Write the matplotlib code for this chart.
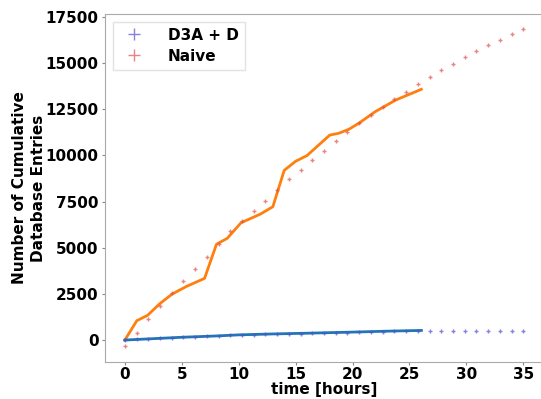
import numpy as np
import matplotlib
matplotlib.use("Agg")
import matplotlib.pyplot as plt

# fitted / projected points (35 evenly spaced over 0..35 hours)
proj_hours = np.linspace(0, 35, 35)
naive_proj = [-308, 396, 1154, 1842, 2530, 3196, 3846, 4514, 5200, 5880,
              6440, 6988, 7546, 8120, 8705, 9209, 9751, 10255, 10763, 11251,
              11755, 12205, 12625, 13039, 13451, 13851, 14247, 14610, 14968, 15315,
              15640, 15965, 16268, 16561, 16831]
d3a_proj = [0, 30, 60, 95, 125, 155, 180, 205, 225, 250,
            275, 290, 305, 320, 335, 350, 360, 375, 390, 405,
            420, 435, 450, 465, 480, 495, 505, 490, 480, 475,
            500, 500, 505, 500, 470]

# measured data
naive_hours = [0, 1.05, 2, 3.05, 4.15, 5.4, 7, 8.05, 9, 10.2, 11.9, 13, 14, 15,
               16, 18, 18.8, 19.7, 20.6, 22, 23.8, 26.05]
naive_vals = [0, 1047, 1340, 1960, 2490, 2900, 3340, 5190, 5510, 6350, 6820, 7220,
              9190, 9680, 9990, 11100, 11200, 11420, 11760, 12370, 13000, 13580]
d3a_hours = [0, 2, 5, 8, 10, 13, 16, 20, 23, 26.05]
d3a_vals = [0, 60, 150, 220, 280, 330, 370, 430, 480, 520]

fig = plt.figure(figsize=(5.41, 3.99), dpi=100)
ax = fig.add_axes([0.194, 0.0927, 0.81, 0.8723])

ax.plot(naive_hours, naive_vals, color='#ff7f0e', lw=2.0, zorder=2)
ax.plot(d3a_hours, d3a_vals, color='#1f77b4', lw=2.0, zorder=2)
ax.plot(proj_hours, d3a_proj, linestyle='none', marker='+', color='#5050d0',
        alpha=0.7, markersize=3, mew=1, label='D3A + D', zorder=3)
ax.plot(proj_hours, naive_proj, linestyle='none', marker='+', color='#e05050',
        alpha=0.7, markersize=3, mew=1, label='Naive', zorder=3)

ax.set_xlim(-1.75, 36.75)
ax.set_ylim(-1190, 17660)
ax.set_xticks([0, 5, 10, 15, 20, 25, 30, 35])
ax.set_yticks([0, 2500, 5000, 7500, 10000, 12500, 15000, 17500])
for lab in ax.get_xticklabels() + ax.get_yticklabels():
    lab.set_fontweight('bold')
    lab.set_fontsize(11)
ax.set_xlabel('time [hours]', fontsize=11, fontweight='bold', labelpad=0)
ax.set_ylabel('Number of Cumulative\nDatabase Entries', fontsize=11,
              fontweight='bold', labelpad=0, linespacing=1.3)
for s in ax.spines.values():
    s.set_color('#aaaaaa')
ax.tick_params(colors='#888888', labelcolor='black', length=2)
ax.tick_params(axis='x', pad=1.5)
ax.tick_params(axis='y', pad=2.5)

leg = ax.legend(loc='upper left', markerscale=3, prop={'weight': 'bold', 'size': 11},
                handletextpad=1.2, borderpad=0.4, labelspacing=0.4, fancybox=False)
leg.get_frame().set_edgecolor('#dddddd')

fig.savefig('out.png', dpi=100)
